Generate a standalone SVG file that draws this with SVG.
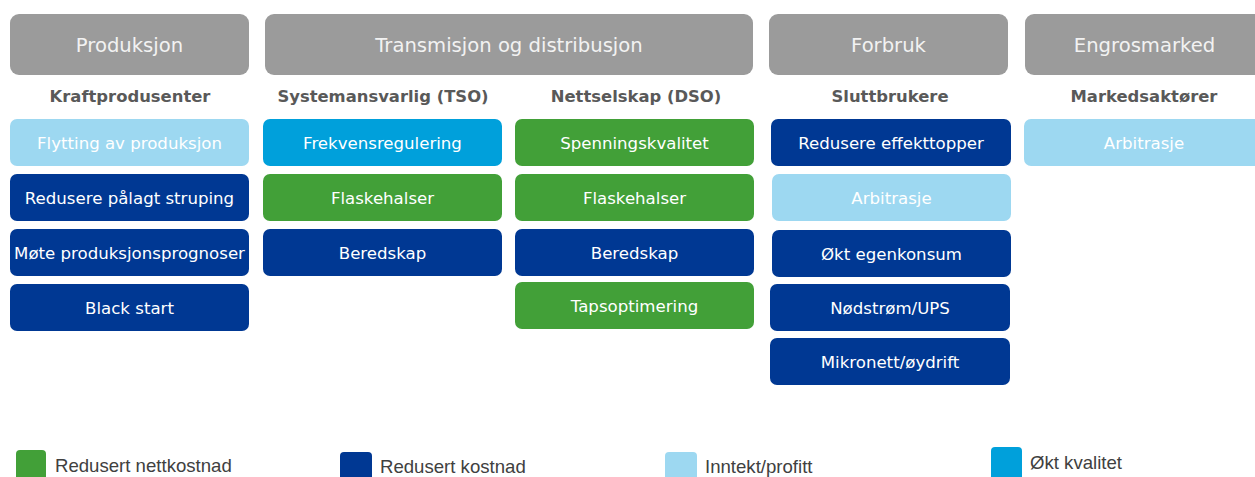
<svg xmlns="http://www.w3.org/2000/svg" width="1255" height="477" viewBox="0 0 1255 477">
<style>
.hdr{fill:#9b9b9b}
.ht{font-family:"DejaVu Sans",Verdana,sans-serif;font-size:19.6px;fill:#f2f2f2;text-anchor:middle}
.sub{font-family:"DejaVu Sans",Verdana,sans-serif;font-size:16.4px;font-weight:bold;fill:#595959;text-anchor:middle}
.bt{font-family:"DejaVu Sans",Verdana,sans-serif;font-size:16.6px;fill:#ffffff;text-anchor:middle}
.lb{fill:#9dd8f1}.cy{fill:#00a0db}.gr{fill:#42a038}.db{fill:#003893}
.lt{font-family:"Liberation Sans",Arial,sans-serif;font-size:18.6px;fill:#404040}
</style>
<rect width="1255" height="477" fill="#ffffff"/>
<g id="headers">
<g id="h-produksjon"><rect class="hdr" x="10" y="14" width="239" height="61" rx="9"/><text class="ht" x="129.5" y="51.5">Produksjon</text></g>
<g id="h-transmisjon"><rect class="hdr" x="265" y="14" width="488" height="61" rx="9"/><text class="ht" x="509" y="51.5">Transmisjon og distribusjon</text></g>
<g id="h-forbruk"><rect class="hdr" x="769" y="14" width="239" height="61" rx="9"/><text class="ht" x="888.5" y="51.5">Forbruk</text></g>
<g id="h-engros"><rect class="hdr" x="1025" y="14" width="239" height="61" rx="9"/><text class="ht" x="1144.5" y="51.5">Engrosmarked</text></g>
</g>
<g id="subheaders">
<text class="sub" x="130" y="102">Kraftprodusenter</text>
<text class="sub" x="383" y="102">Systemansvarlig (TSO)</text>
<text class="sub" x="636" y="102">Nettselskap (DSO)</text>
<text class="sub" x="890" y="102">Sluttbrukere</text>
<text class="sub" x="1144" y="102">Markedsaktører</text>
</g>
<g id="col1">
<g id="n-flytting"><rect class="lb" x="10" y="119" width="239" height="47" rx="7"/><text class="bt" x="129.5" y="148.5">Flytting av produksjon</text></g>
<g id="n-redusere-palagt"><rect class="db" x="10" y="174" width="239" height="47" rx="7"/><text class="bt" x="129.5" y="203.5">Redusere pålagt struping</text></g>
<g id="n-mote"><rect class="db" x="10" y="229" width="239" height="47" rx="7"/><text class="bt" x="129.5" y="258.5">Møte produksjonsprognoser</text></g>
<g id="n-blackstart"><rect class="db" x="10" y="284" width="239" height="47" rx="7"/><text class="bt" x="129.5" y="313.5">Black start</text></g>
</g>
<g id="col2">
<g id="n-frekvens"><rect class="cy" x="263" y="119" width="239" height="47" rx="7"/><text class="bt" x="382.5" y="148.5">Frekvensregulering</text></g>
<g id="n-flaske-tso"><rect class="gr" x="263" y="174" width="239" height="47" rx="7"/><text class="bt" x="382.5" y="203.5">Flaskehalser</text></g>
<g id="n-bered-tso"><rect class="db" x="263" y="229" width="239" height="47" rx="7"/><text class="bt" x="382.5" y="258.5">Beredskap</text></g>
</g>
<g id="col3">
<g id="n-spenning"><rect class="gr" x="515" y="119" width="239" height="47" rx="7"/><text class="bt" x="634.5" y="148.5">Spenningskvalitet</text></g>
<g id="n-flaske-dso"><rect class="gr" x="515" y="174" width="239" height="47" rx="7"/><text class="bt" x="634.5" y="203.5">Flaskehalser</text></g>
<g id="n-bered-dso"><rect class="db" x="515" y="229" width="239" height="47" rx="7"/><text class="bt" x="634.5" y="258.5">Beredskap</text></g>
<g id="n-taps"><rect class="gr" x="515" y="282" width="239" height="47" rx="7"/><text class="bt" x="634.5" y="311.5">Tapsoptimering</text></g>
</g>
<g id="col4">
<g id="n-effekt"><rect class="db" x="771" y="119" width="240" height="47" rx="7"/><text class="bt" x="891" y="148.5">Redusere effekttopper</text></g>
<g id="n-arb-slutt"><rect class="lb" x="772" y="174" width="239" height="47" rx="7"/><text class="bt" x="891.5" y="203.5">Arbitrasje</text></g>
<g id="n-egen"><rect class="db" x="772" y="230" width="239" height="47" rx="7"/><text class="bt" x="891.5" y="259.5">Økt egenkonsum</text></g>
<g id="n-nod"><rect class="db" x="770" y="284" width="240" height="47" rx="7"/><text class="bt" x="890" y="313.5">Nødstrøm/UPS</text></g>
<g id="n-mikro"><rect class="db" x="770" y="338" width="240" height="47" rx="7"/><text class="bt" x="890" y="367.5">Mikronett/øydrift</text></g>
</g>
<g id="col5">
<g id="n-arb-marked"><rect class="lb" x="1024" y="119" width="240" height="47" rx="7"/><text class="bt" x="1144" y="148.5">Arbitrasje</text></g>
</g>
<g id="connectors"/>
<g id="legend">
<rect class="gr" x="16" y="450" width="30" height="35" rx="4"/><text class="lt" x="55" y="471.5">Redusert nettkostnad</text>
<rect class="db" x="340" y="452" width="32" height="35" rx="4"/><text class="lt" x="380" y="472.5">Redusert kostnad</text>
<rect class="lb" x="665" y="452" width="32" height="35" rx="4"/><text class="lt" x="705" y="472.5">Inntekt/profitt</text>
<rect class="cy" x="991" y="447" width="31" height="35" rx="4"/><text class="lt" x="1030" y="468.5">Økt kvalitet</text>
</g>
</svg>
